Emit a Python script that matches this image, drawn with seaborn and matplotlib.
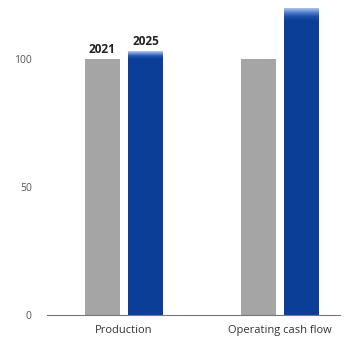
import numpy as np
import pandas as pd
import matplotlib
matplotlib.use("Agg")
import matplotlib.pyplot as plt
import matplotlib.colors as mcolors
import seaborn as sns

# Indexed values (2021 = 100); 2025 shown as a range low..high
metrics = ["Production", "Operating cash flow"]
years = ["2021", "2025"]
value_2021 = [100, 100]
value_2025_low = [100, 115]
value_2025_high = [103, 120]
yticks = [0, 50, 100]

grey = "#A5A5A5"
blue = "#0B3F97"
light_blue = "#B3C8EE"

sns.set_theme(style="white")
plt.rcParams["font.family"] = ["Open Sans", "DejaVu Sans"]

df = pd.DataFrame({
    "metric": metrics * 2,
    "year": [years[0]] * 2 + [years[1]] * 2,
    "value": value_2021 + value_2025_low,
})

fig = plt.figure(figsize=(3.47, 3.40), dpi=100)
ax = fig.add_axes([47 / 347, 25 / 340, 293 / 347, 315 / 340])

sns.barplot(data=df, x="metric", y="value", hue="year", order=metrics,
            hue_order=years, palette=[grey, blue], width=0.558, gap=0.2,
            legend=False, saturation=1, linewidth=0, ax=ax)

# Fading top band for the 2025 range: dark at the base, light at the top
cmap = mcolors.LinearSegmentedColormap.from_list(
    "fade", [blue, "#1D50AA", "#5C86D2", light_blue])
bars = ax.patches
blue_bars = sorted([b for b in bars if mcolors.to_hex(b.get_facecolor()).lower() == blue.lower()],
                   key=lambda b: b.get_x())
grey_bars = sorted([b for b in bars if mcolors.to_hex(b.get_facecolor()).lower() != blue.lower()],
                   key=lambda b: b.get_x())
n = 40
for b, lo, hi in zip(blue_bars, value_2025_low, value_2025_high):
    edges = np.linspace(lo, hi, n + 1)
    for i in range(n):
        ax.bar(b.get_x() + b.get_width() / 2, edges[i + 1] - edges[i] + 0.02,
               bottom=edges[i], width=b.get_width(),
               color=cmap((i + 0.5) / n), linewidth=0)

# Year labels over the first group
gb, bb = grey_bars[0], blue_bars[0]
ax.text(gb.get_x() + gb.get_width() / 2, value_2021[0] + 1.2, years[0],
        ha="center", va="bottom", fontsize=8.5, fontweight="bold", color="#222222")
ax.text(bb.get_x() + bb.get_width() / 2, value_2025_high[0] + 1.2, years[1],
        ha="center", va="bottom", fontsize=8.5, fontweight="bold", color="#222222")

ax.set_ylim(0, 123)
ax.set_xlim(-0.494, 1.385)
ax.set_yticks(yticks)
ax.set_yticklabels([str(t) for t in yticks])
ax.set_xlabel("")
ax.set_ylabel("")
ax.tick_params(axis="y", labelsize=7.5, labelcolor="#555555", length=0, pad=11)
ax.tick_params(axis="x", labelsize=8, labelcolor="#333333", length=0, pad=7)
for s in ["top", "right", "left"]:
    ax.spines[s].set_visible(False)
ax.spines["bottom"].set_color("#777777")
ax.spines["bottom"].set_linewidth(0.8)

fig.savefig("out.png", dpi=100)
